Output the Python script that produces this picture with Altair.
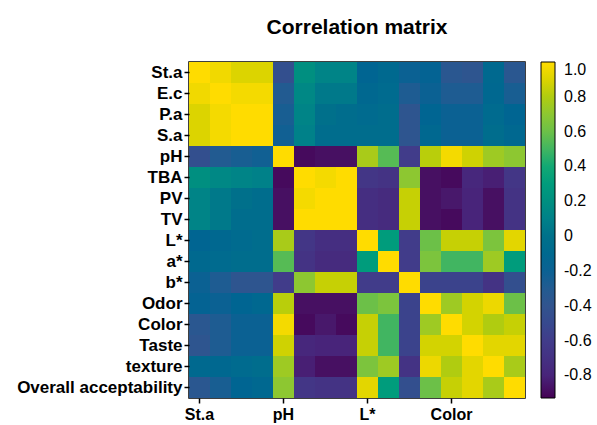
import altair as alt
import pandas as pd

labels = ["St.a", "E.c", "P.a", "S.a", "pH", "TBA", "PV", "TV", "L*", "a*", "b*",
          "Odor", "Color", "Taste", "texture", "Overall acceptability"]

r_sta = [1.0, 0.96, 0.9, 0.9, -0.45, 0.2, 0.12, 0.12, -0.15, -0.1, -0.2, -0.18, -0.35, -0.38, -0.1, -0.35]
r_ec = [0.96, 1.0, 0.97, 0.97, -0.3, 0.15, 0.05, 0.05, -0.12, -0.08, -0.28, -0.2, -0.28, -0.28, -0.12, -0.25]
r_pa = [0.9, 0.97, 1.0, 1.0, -0.25, 0.12, -0.02, -0.05, -0.08, -0.05, -0.38, -0.15, -0.2, -0.2, -0.08, -0.15]
r_sa = [0.9, 0.97, 1.0, 1.0, -0.22, 0.1, -0.05, -0.05, -0.05, -0.05, -0.38, -0.12, -0.2, -0.2, -0.05, -0.12]
r_ph = [-0.45, -0.3, -0.25, -0.22, 1.0, -0.9, -0.88, -0.88, 0.78, 0.55, -0.6, 0.82, 0.97, 0.87, 0.75, 0.7]
r_tba = [0.2, 0.15, 0.12, 0.1, -0.9, 1.0, 0.97, 1.0, -0.65, -0.68, 0.7, -0.88, -0.9, -0.78, -0.82, -0.65]
r_pv = [0.12, 0.05, -0.02, -0.05, -0.88, 0.97, 1.0, 1.0, -0.72, -0.75, 0.85, -0.88, -0.85, -0.8, -0.88, -0.68]
r_tv = [0.12, 0.05, -0.05, -0.05, -0.88, 1.0, 1.0, 1.0, -0.72, -0.75, 0.85, -0.88, -0.9, -0.8, -0.88, -0.68]
r_l = [-0.15, -0.12, -0.08, -0.05, 0.78, -0.65, -0.72, -0.72, 1.0, 0.3, -0.6, 0.6, 0.85, 0.85, 0.65, 0.92]
r_a = [-0.1, -0.08, -0.05, -0.05, 0.55, -0.68, -0.75, -0.75, 0.3, 1.0, -0.6, 0.65, 0.5, 0.5, 0.75, 0.3]
r_b = [-0.2, -0.28, -0.38, -0.38, -0.6, 0.7, 0.85, 0.85, -0.6, -0.6, 1.0, -0.55, -0.55, -0.55, -0.68, -0.45]
r_odor = [-0.18, -0.2, -0.15, -0.12, 0.82, -0.88, -0.88, -0.88, 0.6, 0.65, -0.55, 1.0, 0.75, 0.88, 0.95, 0.6]
r_color = [-0.35, -0.28, -0.2, -0.2, 0.97, -0.9, -0.85, -0.9, 0.85, 0.5, -0.55, 0.75, 1.0, 0.88, 0.8, 0.85]
r_taste = [-0.38, -0.28, -0.2, -0.2, 0.87, -0.78, -0.8, -0.8, 0.85, 0.5, -0.55, 0.88, 0.88, 1.0, 0.92, 0.92]
r_texture = [-0.1, -0.12, -0.08, -0.05, 0.75, -0.82, -0.88, -0.88, 0.65, 0.75, -0.68, 0.95, 0.8, 0.92, 1.0, 0.78]
r_oa = [-0.35, -0.25, -0.15, -0.12, 0.7, -0.65, -0.68, -0.68, 0.92, 0.3, -0.45, 0.6, 0.85, 0.92, 0.78, 1.0]

rows = [r_sta, r_ec, r_pa, r_sa, r_ph, r_tba, r_pv, r_tv, r_l, r_a, r_b,
        r_odor, r_color, r_taste, r_texture, r_oa]

x_tick_labels = ["St.a", "pH", "L*", "Color"]
legend_values = [-0.8, -0.6, -0.4, -0.2, 0.0, 0.2, 0.4, 0.6, 0.8, 1.0]

color_stops = [-0.93, -0.8, -0.6, -0.4, -0.2, 0.0, 0.2, 0.4, 0.6, 0.8, 0.9, 1.0]
color_range = ["#440154", "#48247a", "#413c8a", "#31548e", "#0b6193", "#00718a",
               "#008f80", "#12a874", "#6cc048", "#b0cc10", "#dcd400", "#ffdc00"]

records = []
for i, rname in enumerate(labels):
    for j, cname in enumerate(labels):
        records.append({"row": rname, "col": cname, "r": rows[i][j]})
df = pd.DataFrame(records)

FONT = "Liberation Sans"
W, H = 336, 336

chart = alt.Chart(df).mark_rect().encode(
    x=alt.X("col:N", sort=labels, title=None,
            axis=alt.Axis(values=x_tick_labels, labelAngle=0, labelFontSize=16,
                          labelFontWeight="bold", labelFont=FONT, labelColor="black",
                          tickColor="black", tickSize=5, tickWidth=1.5, grid=False,
                          domain=False, labelPadding=3)),
    y=alt.Y("row:N", sort=labels, title=None,
            axis=alt.Axis(labelFontSize=17, labelFontWeight="bold", labelFont=FONT,
                          labelColor="black", tickColor="black", tickSize=5, grid=False,
                          tickWidth=1.5, domain=False, labelPadding=2)),
    color=alt.Color("r:Q", scale=alt.Scale(domain=color_stops, range=color_range),
                    legend=alt.Legend(title=None, orient="right", offset=16,
                                      gradientLength=H, gradientThickness=14,
                                      gradientStrokeColor="black", gradientStrokeWidth=1,
                                      values=legend_values, labelFontSize=16,
                                      labelFont=FONT, labelColor="black",
                                      labelOverlap=False, labelBaseline="middle",
                                      labelOffset=9, padding=0,
                                      labelExpr="datum.value == 0 ? '0' : replace(format(datum.value, '.1f'), '\u2212', '-')")),
).properties(
    width=W,
    height=H,
    title=alt.TitleParams("Correlation matrix", fontSize=21, fontWeight="bold",
                          font=FONT, anchor="middle", offset=24, color="black"),
    padding={"left": 189, "top": 62, "right": 72, "bottom": 27},
    autosize="none",
).configure_view(
    stroke="black", strokeWidth=1.5
).configure_scale(bandPaddingInner=0)

chart.save("out.html", embed_options={"renderer": "svg", "actions": False})
